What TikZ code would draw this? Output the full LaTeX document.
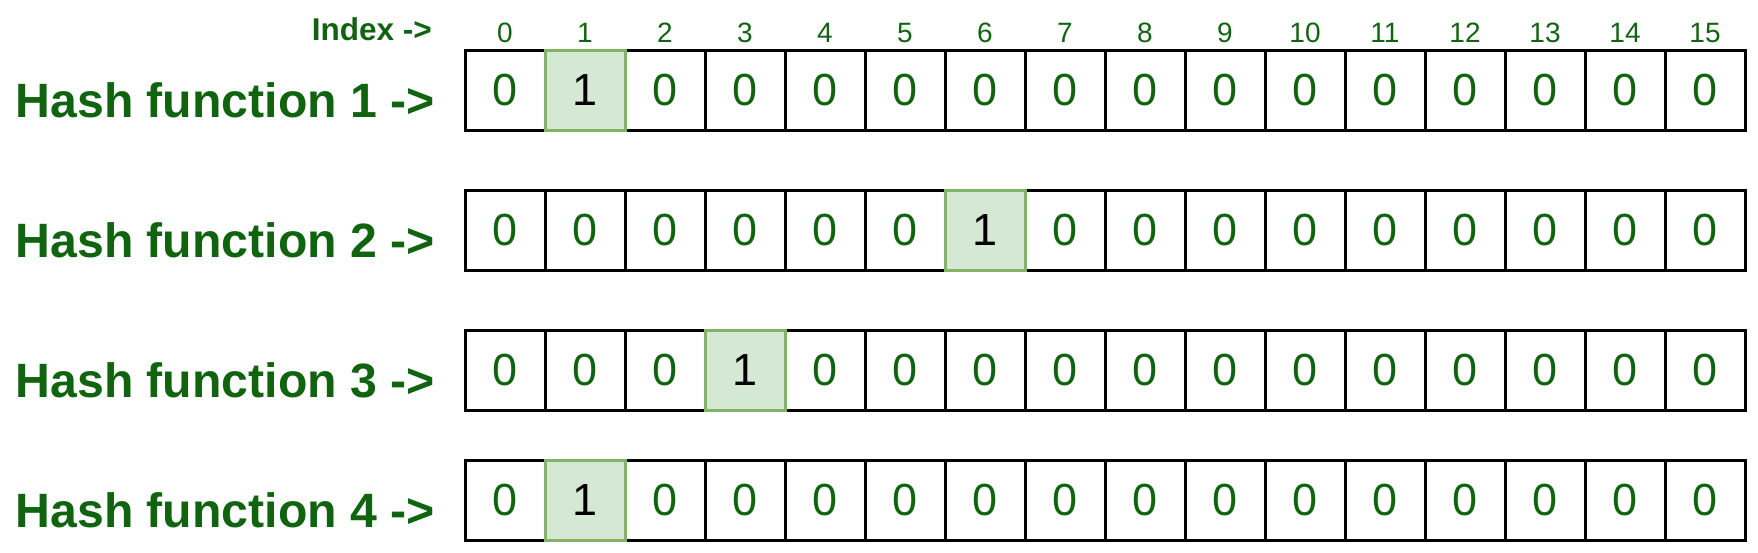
\documentclass[tikz,border=0pt]{standalone}
\usepackage{fontspec}
\setmainfont{Liberation Sans}
\usepackage{tikz}
\usetikzlibrary{positioning}
\definecolor{ggreen}{RGB}{16,100,16}
\definecolor{hotfill}{HTML}{D5E8D4}
\definecolor{hotdraw}{HTML}{82B366}
\tikzstyle{cell} = [draw=black,line width=3pt,minimum width=80pt,minimum height=79.5pt,inner sep=0pt,text=ggreen,font=\fontsize{45}{45}\selectfont]
\tikzstyle{hot} = [cell,draw=hotdraw,fill=hotfill,text=black]
\tikzstyle{index} = [text=ggreen,inner sep=0pt,font=\fontsize{28}{28}\selectfont]
\tikzstyle{hashlabel} = [anchor=base east,inner sep=0pt,text=ggreen,font=\bfseries\fontsize{48.2}{49}\selectfont]

\begin{document}
\begin{tikzpicture}[x=1pt,y=-1pt]
    \useasboundingbox (0,0) rectangle (1758,552);
    \node[index,anchor=base east] (idx) at (432,40) {\bfseries\fontsize{31.5}{32}\selectfont Index ->};
    \foreach \c in {0,...,15}
        \node[index] (i\c) at (505+80*\c,33) {\c};

    % rows: number / centre / position of the 1
    \foreach \row/\yc/\one in {1/90.4/1,2/230.4/6,3/370.4/3,4/500.4/1} {
        \node[hashlabel] (h\row) at (435,\yc+27) {Hash function \row\ ->};
        \foreach \col in {0,...,15} {
            \ifnum\col=\one\relax\else
                \node[cell] (r\row c\col) at (505+80*\col,\yc) {0};
            \fi
        }
        \node[hot] (r\row c\one) at (505+80*\one,\yc) {1};
    }
\end{tikzpicture}
\end{document}
